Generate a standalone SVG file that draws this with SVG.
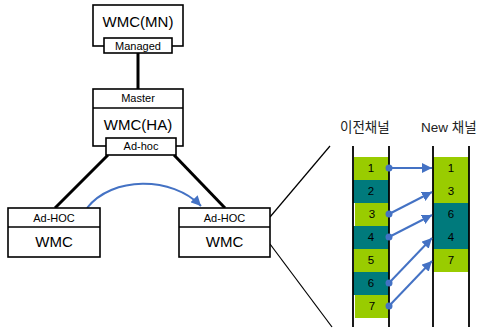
<svg xmlns="http://www.w3.org/2000/svg" width="480" height="330" viewBox="0 0 480 330">
<style>
.box{fill:#fff;stroke:#000;stroke-width:1.6}
.big{font-family:"Liberation Sans",Arial,sans-serif;font-size:15px;fill:#000;text-anchor:middle}
.sm{font-family:"Liberation Sans",Arial,sans-serif;font-size:11px;fill:#000;text-anchor:middle}
.num{font-family:"Liberation Sans",Arial,sans-serif;font-size:11.5px;fill:#000;text-anchor:middle}
.title{font-family:"Liberation Sans","Noto Sans CJK KR",sans-serif;font-size:13.5px;fill:#222}
.thick{stroke:#000;stroke-width:3;fill:none}
.thin{stroke:#000;stroke-width:1.2;fill:none}
.rail{stroke:#000;stroke-width:1.8}
.g{fill:#99CC00}
.t{fill:#007A7C}
.blue{stroke:#4472C4;stroke-width:2;fill:none}
.dot{fill:#4472C4}
</style>
<defs>
<marker id="ah" viewBox="0 0 10 10" refX="10" refY="5" markerWidth="5" markerHeight="5" orient="auto" markerUnits="strokeWidth">
<path d="M0,0 L10,5 L0,10 z" fill="#4472C4"/>
</marker>
</defs>
<g id="connectors">
<line class="thick" x1="138" y1="53" x2="138" y2="89"/>
<line class="thick" x1="108" y1="155" x2="55" y2="208"/>
<line class="thick" x1="174" y1="155" x2="225" y2="208"/>
<line class="thin" x1="270" y1="217" x2="330" y2="146"/>
<line class="thin" x1="270" y1="244" x2="332" y2="327"/>
<path class="blue" d="M87,208 C112,176 172,176 201,206" marker-end="url(#ah)"/>
</g>
<g id="wmc-mn">
<rect class="box" x="93" y="5" width="90" height="41"/>
<text class="big" x="138" y="27">WMC(MN)</text>
<rect class="box" x="104" y="38" width="68" height="15"/>
<text class="sm" x="138" y="49.5">Managed</text>
</g>
<g id="wmc-ha">
<rect class="box" x="93" y="89" width="90" height="57"/>
<line class="box" x1="93" y1="108" x2="183" y2="108"/>
<text class="sm" x="138" y="102">Master</text>
<text class="big" x="138" y="130">WMC(HA)</text>
<rect class="box" x="106" y="138" width="70" height="17"/>
<text class="sm" x="141" y="150">Ad-hoc</text>
</g>
<g id="wmc-left">
<rect class="box" x="8" y="208" width="92" height="49"/>
<line class="box" x1="8" y1="227" x2="100" y2="227"/>
<text class="sm" x="54" y="221.5">Ad-HOC</text>
<text class="big" x="54" y="247">WMC</text>
</g>
<g id="wmc-right">
<rect class="box" x="179" y="208" width="91" height="49"/>
<line class="box" x1="179" y1="227" x2="270" y2="227"/>
<text class="sm" x="224.5" y="221.5">Ad-HOC</text>
<text class="big" x="224.5" y="247">WMC</text>
</g>
<g id="old-channel">
<text class="title" x="340" y="132">이전채널</text>
<rect class="g" x="354" y="157" width="35" height="23"/>
<rect class="t" x="353" y="180" width="36" height="23"/>
<rect class="g" x="355" y="203" width="34" height="23"/>
<rect class="t" x="353" y="226" width="36" height="23"/>
<rect class="g" x="354" y="249" width="35" height="23"/>
<rect class="t" x="353" y="272" width="36" height="23"/>
<rect class="g" x="355" y="295" width="34" height="23"/>
<line class="rail" x1="353" y1="146" x2="353" y2="327"/>
<line class="rail" x1="389" y1="146" x2="389" y2="327"/>
<text class="num" x="371" y="172">1</text>
<text class="num" x="371" y="195">2</text>
<text class="num" x="372" y="218">3</text>
<text class="num" x="371" y="241">4</text>
<text class="num" x="371" y="264">5</text>
<text class="num" x="371" y="287">6</text>
<text class="num" x="372" y="310">7</text>
</g>
<g id="new-channel">
<text class="title" x="421" y="132">New 채널</text>
<rect class="g" x="433" y="157" width="36" height="23"/>
<rect class="g" x="433" y="180" width="36" height="23"/>
<rect class="t" x="433" y="203" width="36" height="23"/>
<rect class="t" x="433" y="226" width="36" height="23"/>
<rect class="g" x="433" y="249" width="36" height="23"/>
<line class="rail" x1="433" y1="146" x2="433" y2="327"/>
<line class="rail" x1="469" y1="146" x2="469" y2="327"/>
<text class="num" x="451" y="172">1</text>
<text class="num" x="451" y="195">3</text>
<text class="num" x="451" y="218">6</text>
<text class="num" x="451" y="241">4</text>
<text class="num" x="451" y="264">7</text>
</g>
<g id="channel-arrows">
<line class="blue" x1="389" y1="168" x2="432" y2="168" marker-end="url(#ah)"/>
<line class="blue" x1="389" y1="214" x2="432" y2="192" marker-end="url(#ah)"/>
<line class="blue" x1="389" y1="237" x2="432" y2="215" marker-end="url(#ah)"/>
<line class="blue" x1="389" y1="283" x2="432" y2="238" marker-end="url(#ah)"/>
<line class="blue" x1="389" y1="306" x2="432" y2="261" marker-end="url(#ah)"/>
<circle class="dot" cx="389" cy="168" r="3.5"/>
<circle class="dot" cx="389" cy="214" r="3.5"/>
<circle class="dot" cx="389" cy="237" r="3.5"/>
<circle class="dot" cx="389" cy="283" r="3.5"/>
<circle class="dot" cx="389" cy="306" r="3.5"/>
</g>
</svg>
